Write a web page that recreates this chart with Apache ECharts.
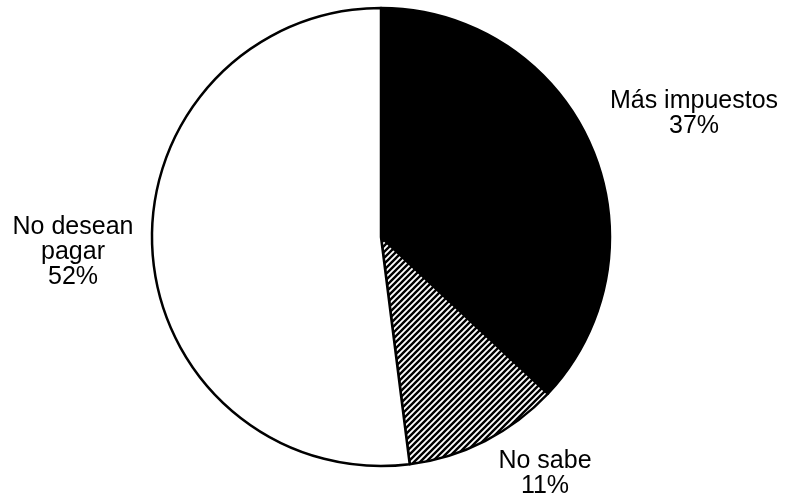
<!DOCTYPE html>
<html>
<head>
<meta charset="utf-8">
<script src="https://cdn.jsdelivr.net/npm/echarts@6/dist/echarts.min.js"></script>
<style>
html,body{margin:0;padding:0;background:#fff;}
#chart{width:785px;height:498px;}
</style>
</head>
<body>
<div id="chart"></div>
<script>
const categories = ['Más impuestos', 'No sabe', 'No desean\npagar'];
const values = [37, 11, 52];

// hatch pattern
const tile = document.createElement('canvas');
tile.width = 6; tile.height = 6;
const g = tile.getContext('2d');
g.fillStyle = '#fff'; g.fillRect(0, 0, 6, 6);
g.strokeStyle = '#000'; g.lineWidth = 2.4;
g.beginPath();
g.moveTo(-1, 7); g.lineTo(7, -1);
g.moveTo(-4, 4); g.lineTo(4, -4);
g.moveTo(2, 10); g.lineTo(10, 2);
g.stroke();

const fills = ['#000', {image: tile, repeat: 'repeat'}, '#fff'];
const labelPos = [[694, 114], [545, 474], [73, 252]];

const chart = echarts.init(document.getElementById('chart'));
chart.setOption({
  animation: false,
  backgroundColor: '#fff',
  series: [{
    type: 'pie',
    center: [381, 237],
    radius: [0, 229],
    startAngle: 90,
    clockwise: true,
    silent: true,
    data: categories.map((c, i) => ({
      name: c,
      value: values[i],
      itemStyle: {color: fills[i]}
    })),
    itemStyle: {borderColor: '#000', borderWidth: 2.5},
    label: {
      show: true,
      position: 'outside',
      alignTo: 'none',
      overflow: 'none',
      width: 300,
      formatter: p => p.name + '\n' + p.value + '%',
      fontFamily: '"Liberation Sans", Arial, Helvetica, sans-serif',
      fontSize: 25,
      lineHeight: 25,
      color: '#000',
      align: 'center'
    },
    labelLine: {show: false},
    labelLayout: p => ({
      x: labelPos[p.dataIndex][0],
      y: labelPos[p.dataIndex][1],
      align: 'center',
      verticalAlign: 'middle',
      hideOverlap: false
    })
  }]
});
</script>
</body>
</html>
